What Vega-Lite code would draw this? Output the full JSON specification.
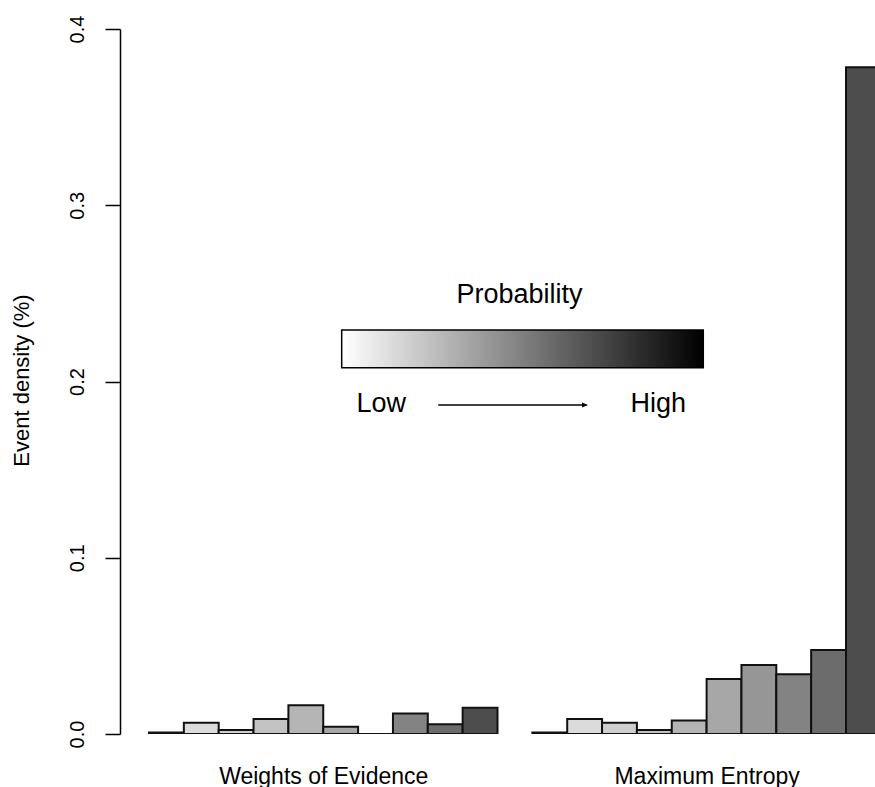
{
  "$schema": "https://vega.github.io/schema/vega-lite/v6.json",
  "width": 755,
  "height": 705,
  "autosize": {"type": "none"},
  "padding": {"left": 120, "top": 29, "right": 0, "bottom": 53},
  "background": "white",
  "config": {"view": {"stroke": null}, "font": "Liberation Sans"},
  "layer": [
    {
      "data": {
        "values": [
          {"model": "Weights of Evidence", "bin": 1, "density": 0.0009},
          {"model": "Weights of Evidence", "bin": 2, "density": 0.0064},
          {"model": "Weights of Evidence", "bin": 3, "density": 0.0023},
          {"model": "Weights of Evidence", "bin": 4, "density": 0.0085},
          {"model": "Weights of Evidence", "bin": 5, "density": 0.0163},
          {"model": "Weights of Evidence", "bin": 6, "density": 0.0041},
          {"model": "Weights of Evidence", "bin": 7, "density": 0.0},
          {"model": "Weights of Evidence", "bin": 8, "density": 0.0117},
          {"model": "Weights of Evidence", "bin": 9, "density": 0.0055},
          {"model": "Weights of Evidence", "bin": 10, "density": 0.0149},
          {"model": "Maximum Entropy", "bin": 1, "density": 0.0009},
          {"model": "Maximum Entropy", "bin": 2, "density": 0.0085},
          {"model": "Maximum Entropy", "bin": 3, "density": 0.0064},
          {"model": "Maximum Entropy", "bin": 4, "density": 0.0023},
          {"model": "Maximum Entropy", "bin": 5, "density": 0.0076},
          {"model": "Maximum Entropy", "bin": 6, "density": 0.0312},
          {"model": "Maximum Entropy", "bin": 7, "density": 0.0391},
          {"model": "Maximum Entropy", "bin": 8, "density": 0.0339},
          {"model": "Maximum Entropy", "bin": 9, "density": 0.0477},
          {"model": "Maximum Entropy", "bin": 10, "density": 0.3783}
        ]
      },
      "transform": [
        {"calculate": "datum.bin + (datum.model === 'Maximum Entropy' ? 11 : 0)", "as": "x0"},
        {"calculate": "datum.x0 + 1", "as": "x1"}
      ],
      "mark": {"type": "rect", "stroke": "#111111", "strokeWidth": 2, "clip": true},
      "encoding": {
        "x": {
          "field": "x0",
          "type": "quantitative",
          "scale": {"domain": [0.1679, 21.832], "nice": false, "zero": false},
          "axis": {
            "title": null,
            "values": [6, 17],
            "labelExpr": "datum.value == 6 ? 'Weights of Evidence' : 'Maximum Entropy'",
            "ticks": false,
            "tickSize": 0,
            "domain": false,
            "grid": false,
            "labelFontSize": 23,
            "labelFont": "Liberation Sans",
            "labelBaseline": "alphabetic",
            "labelPadding": 49,
            "labelColor": "#000000",
            "labelLimit": 0,
            "labelFlush": false,
            "labelOverlap": false
          }
        },
        "x2": {"field": "x1"},
        "y": {
          "field": "density",
          "type": "quantitative",
          "scale": {"domain": [0, 0.4], "nice": false},
          "axis": {
            "title": "Event density (%)",
            "values": [0, 0.1, 0.2, 0.3, 0.4],
            "format": ".1f",
            "labelAngle": 270,
            "labelAlign": "center",
            "labelBaseline": "alphabetic",
            "labelPadding": 22,
            "labelFontSize": 20,
            "labelFont": "Liberation Sans",
            "labelColor": "#000000",
            "labelFlush": false,
            "labelOverlap": false,
            "tickSize": 15,
            "tickColor": "#000000",
            "tickWidth": 1.5,
            "domainColor": "#000000",
            "domainWidth": 1.5,
            "grid": false,
            "titleFontSize": 22,
            "titleFont": "Liberation Sans",
            "titleFontWeight": "normal",
            "titleColor": "#000000",
            "titleAngle": 270,
            "titleX": -92,
            "titleY": 351,
            "titleAlign": "center",
            "titleBaseline": "alphabetic"
          }
        },
        "y2": {"datum": 0},
        "color": {
          "field": "bin",
          "type": "ordinal",
          "scale": {
            "domain": [1, 2, 3, 4, 5, 6, 7, 8, 9, 10],
            "range": ["#E6E6E6", "#DBDBDB", "#CFCFCF", "#C3C3C3", "#B5B5B5", "#A7A7A7", "#969696", "#838383", "#6C6C6C", "#4D4D4D"]
          },
          "legend": null
        }
      }
    },
    {
      "data": {"values": [{}]},
      "mark": {
        "type": "rect",
        "stroke": "#000000",
        "strokeWidth": 1.5,
        "fill": {
          "gradient": "linear",
          "x1": 0, "y1": 0, "x2": 1, "y2": 0,
          "stops": [
            {"offset": 0, "color": "#ffffff"},
            {"offset": 1, "color": "#000000"}
          ]
        }
      },
      "encoding": {
        "x": {"datum": 6.529, "type": "quantitative"},
        "x2": {"datum": 16.905},
        "y": {"datum": 0.22922, "type": "quantitative"},
        "y2": {"datum": 0.20783}
      }
    },
    {
      "data": {"values": [{}]},
      "mark": {"type": "text", "text": "Probability", "fontSize": 27, "font": "Liberation Sans", "align": "center", "baseline": "alphabetic", "color": "#000000"},
      "encoding": {
        "x": {"datum": 11.63, "type": "quantitative"},
        "y": {"datum": 0.24437, "type": "quantitative"}
      }
    },
    {
      "data": {"values": [{}]},
      "mark": {"type": "text", "text": "Low", "fontSize": 27, "font": "Liberation Sans", "align": "center", "baseline": "alphabetic", "color": "#000000"},
      "encoding": {
        "x": {"datum": 7.666, "type": "quantitative"},
        "y": {"datum": 0.18287, "type": "quantitative"}
      }
    },
    {
      "data": {"values": [{}]},
      "mark": {"type": "text", "text": "High", "fontSize": 27, "font": "Liberation Sans", "align": "center", "baseline": "alphabetic", "color": "#000000"},
      "encoding": {
        "x": {"datum": 15.614, "type": "quantitative"},
        "y": {"datum": 0.18287, "type": "quantitative"}
      }
    },
    {
      "data": {"values": [{}]},
      "mark": {"type": "rule", "color": "#000000", "strokeWidth": 1.5},
      "encoding": {
        "x": {"datum": 9.30, "type": "quantitative"},
        "x2": {"datum": 13.55},
        "y": {"datum": 0.18667, "type": "quantitative"}
      }
    },
    {
      "data": {"values": [{}]},
      "mark": {"type": "point", "shape": "M-1,-0.8L1,0L-1,0.8Z", "size": 36, "filled": true, "color": "#000000", "opacity": 1},
      "encoding": {
        "x": {"datum": 13.51, "type": "quantitative"},
        "y": {"datum": 0.18667, "type": "quantitative"}
      }
    }
  ]
}
